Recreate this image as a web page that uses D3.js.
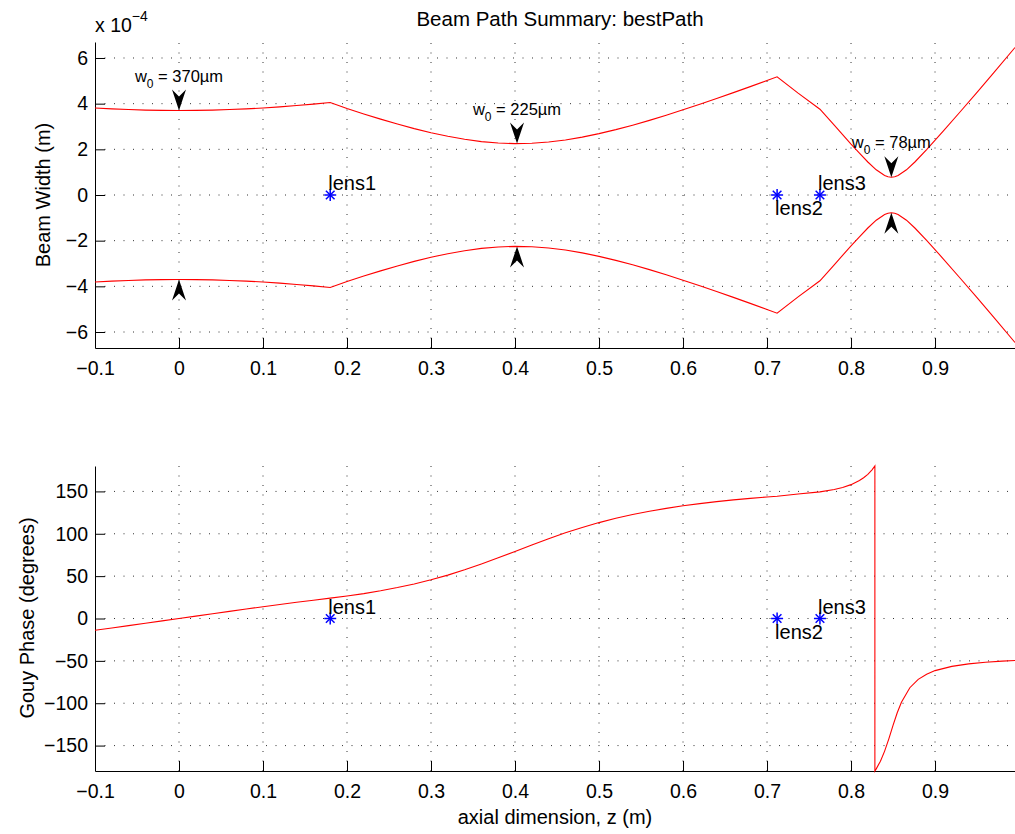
<!DOCTYPE html>
<html><head><meta charset="utf-8">
<script src="https://cdn.jsdelivr.net/npm/d3@7"></script>
<style>
body{margin:0;background:#fff;}
svg text{font-family:"Liberation Sans",Arial,sans-serif;fill:#000;}
</style></head>
<body><svg id="c" width="1015" height="834"></svg>
<script>
// ---- data ----
const xTicks = [-0.1, 0, 0.1, 0.2, 0.3, 0.4, 0.5, 0.6, 0.7, 0.8, 0.9];
const widthTicks = [-600, -400, -200, 0, 200, 400, 600]; // µm (shown as ×1e-4 m)
const phaseTicks = [-150, -100, -50, 0, 50, 100, 150];

// beam radius (µm) along z (m)
const beamZ = [-0.1,-0.08,-0.06,-0.04,-0.02,0,0.02,0.04,0.06,0.08,0.1,0.12,0.14,0.16,0.18,
  0.2,0.22,0.24,0.26,0.28,0.3,0.32,0.34,0.36,0.38,0.4,0.42,0.44,0.46,0.48,0.5,0.52,0.54,0.56,0.58,0.6,0.62,0.64,0.66,0.68,0.7,0.712,
  0.737,0.763,0.78,0.8,0.81,0.82,0.83,0.84,0.844,0.848,0.852,0.856,0.866,0.876,0.89,0.91,0.93,0.95,0.97,0.9952];
const beamW = [381,377.2,374.1,371.8,370.5,370,370.5,371.8,374.1,377.2,381.1,385.9,391.6,397.9,405,
  378.7,354.9,332.2,310.7,290.8,272.7,256.9,243.8,233.9,227.5,225.1,226.6,232,241.1,253.5,268.7,286.3,305.8,326.9,349.4,372.9,397.3,422.5,448.3,474.6,501.2,517.5,
  446,375.6,305.5,222.6,183,144.5,110.4,85.4,80,78,80,85.4,110.4,144.5,198.4,280.4,364.6,449.8,535.5,646];

// Gouy phase (degrees) along z (m)
const phaseZ = [-0.1,-0.08,-0.06,-0.04,-0.02,0,0.02,0.04,0.06,0.08,0.1,0.12,0.14,0.16,0.18,
  0.2,0.22,0.24,0.26,0.28,0.3,0.32,0.34,0.36,0.38,0.4,0.42,0.44,0.46,0.48,0.5,0.52,0.54,0.56,0.58,0.6,0.62,0.64,0.66,0.68,0.7,0.712,
  0.737,0.763,0.78,0.79,0.8,0.81,0.815,0.82,0.825,0.8284,
  0.8284,0.83,0.835,0.84,0.845,0.85,0.855,0.86,0.87,0.88,0.89,0.9,0.92,0.94,0.96,0.98,0.9952];
const phaseDeg = [-13.9,-11.2,-8.45,-5.65,-2.83,0,2.83,5.65,8.45,11.2,13.9,16.5,19.1,21.6,24,
  26.55,29.4,32.7,36.5,40.8,45.7,51.2,57.45,64.3,71.6,79.2,86.8,94.2,101.2,107.5,113.2,118.3,122.7,126.6,130,133,135.6,137.9,140,141.8,143.4,144.3,
  147,149.5,152.3,154.7,158,162.8,166.1,170.2,175.5,180,
  -180,-177.5,-168.4,-156.5,-142,-126.1,-111.2,-98.8,-81.7,-71.8,-65.7,-61.5,-56.5,-53.6,-51.6,-50.3,-49.5];

const lensZ = [0.18, 0.712, 0.763];
const lensNames = ["lens1", "lens2", "lens3"];
const lensBelow = [false, true, false];

const waistZ = [0, 0.4024, 0.848];
const waistW = [370, 225, 78]; // µm

// ---- drawing ----
const svg = d3.select("#c");
svg.append("rect").attr("width",1015).attr("height",834).attr("fill","#fff");

const FS = 19.5;
const x = d3.scaleLinear().domain([-0.1, 0.9952]).range([95, 1015]);
const yTop = d3.scaleLinear().domain([-670, 670]).range([348, 42]);
const yBot = d3.scaleLinear().domain([-180, 180]).range([771, 466]);
const fmtX = v => (v < 0 ? "\u2212" : "") + d3.format("")(Math.abs(+v.toFixed(1)));

function panel(y, yTicks, yFmt) {
  const g = svg.append("g");
  const [y0, y1] = y.range();
  // grid
  g.selectAll(".gx").data(xTicks.filter(t => t > -0.1)).join("line")
    .attr("x1", d => x(d)).attr("x2", d => x(d)).attr("y1", y0).attr("y2", y1)
    .attr("stroke", "#333").attr("stroke-width", 1).attr("stroke-dasharray", "1,8.5");
  g.selectAll(".gy").data(yTicks).join("line")
    .attr("x1", 95).attr("x2", 1015).attr("y1", d => y(d)).attr("y2", d => y(d))
    .attr("stroke", "#333").attr("stroke-width", 1).attr("stroke-dasharray", "1,8.5");
  // axes
  const ax = d3.axisBottom(x).tickValues(xTicks).tickSizeInner(-10).tickSizeOuter(0).tickPadding(13).tickFormat(fmtX);
  const axg = g.append("g").attr("transform", `translate(0,${y0})`).call(ax);
  const ay = d3.axisLeft(y).tickValues(yTicks).tickSizeInner(-10).tickSizeOuter(0).tickPadding(7).tickFormat(yFmt);
  const ayg = g.append("g").attr("transform", `translate(95,0)`).call(ay);
  [axg, ayg].forEach(a => {
    a.select(".domain").attr("stroke", "#000").attr("stroke-width", 1);
    a.selectAll(".tick line").attr("stroke", "#000");
    a.selectAll(".tick text").attr("font-size", FS).attr("font-family", "Liberation Sans, Arial, sans-serif").attr("fill", "#000");
  });
  return g;
}
const minusFmt = v => (v < 0 ? "\u2212" : "") + Math.abs(v);

const gT = panel(yTop, widthTicks, v => minusFmt(v / 100));
const gB = panel(yBot, phaseTicks, minusFmt);

// curves
const lineTop = d3.line().x((d, i) => x(beamZ[i])).y(d => yTop(d));
gT.append("path").datum(beamW).attr("d", lineTop).attr("fill", "none").attr("stroke", "#ff0000").attr("stroke-width", 1.1);
gT.append("path").datum(beamW.map(v => -v)).attr("d", lineTop).attr("fill", "none").attr("stroke", "#ff0000").attr("stroke-width", 1.1);
const lineBot = d3.line().x((d, i) => x(phaseZ[i])).y(d => yBot(d));
gB.append("path").datum(phaseDeg).attr("d", lineBot).attr("fill", "none").attr("stroke", "#ff0000").attr("stroke-width", 1.1);

// lens markers
function lenses(g, y) {
  lensZ.forEach((z, i) => {
    const cx = x(z), cy = y(0), r = 6;
    const m = g.append("g").attr("stroke", "#0000ff").attr("stroke-width", 1.5);
    m.append("line").attr("x1", cx - r).attr("x2", cx + r).attr("y1", cy).attr("y2", cy);
    m.append("line").attr("x1", cx).attr("x2", cx).attr("y1", cy - r).attr("y2", cy + r);
    const k = r * 0.72;
    m.append("line").attr("x1", cx - k).attr("x2", cx + k).attr("y1", cy - k).attr("y2", cy + k);
    m.append("line").attr("x1", cx - k).attr("x2", cx + k).attr("y1", cy + k).attr("y2", cy - k);
    g.append("text").attr("x", cx - 2).attr("y", lensBelow[i] ? cy + 20 : cy - 5)
      .attr("font-size", 20).text(lensNames[i]);
  });
}
lenses(gT, yTop);
lenses(gB, yBot);

// waist arrows and labels
const arrowDown = "M0,0 L-7,-21 L0,-14 L7,-21 Z";
waistZ.forEach((z, i) => {
  const ax = x(z), tip = yTop(waistW[i]), tipB = yTop(-waistW[i]);
  gT.append("path").attr("d", arrowDown).attr("transform", `translate(${ax},${tip})`).attr("fill", "#000");
  gT.append("path").attr("d", arrowDown).attr("transform", `translate(${ax},${tipB}) scale(1,-1)`).attr("fill", "#000");
  const t = gT.append("text").attr("x", ax).attr("y", tip - 29).attr("text-anchor", "middle").attr("font-size", 16.5);
  t.append("tspan").text("w");
  t.append("tspan").attr("font-size", 12).attr("dy", 6).text("0");
  t.append("tspan").attr("dy", -6).text(" = " + waistW[i] + "\u00b5m");
});

// titles and labels
svg.append("text").attr("x", 560).attr("y", 26).attr("text-anchor", "middle").attr("font-size", 20.5).text("Beam Path Summary: bestPath");
const ex = svg.append("text").attr("x", 95).attr("y", 32).attr("font-size", FS);
ex.append("tspan").text("x 10");
ex.append("tspan").attr("dy", -11).attr("font-size", 14).text("\u22124");
svg.append("text").attr("transform", "translate(50,195) rotate(-90)").attr("text-anchor", "middle").attr("font-size", 20).text("Beam Width (m)");
svg.append("text").attr("transform", "translate(34,618) rotate(-90)").attr("text-anchor", "middle").attr("font-size", 20).text("Gouy Phase (degrees)");
svg.append("text").attr("x", 555).attr("y", 824).attr("text-anchor", "middle").attr("font-size", 20).text("axial dimension, z (m)");
</script></body></html>
